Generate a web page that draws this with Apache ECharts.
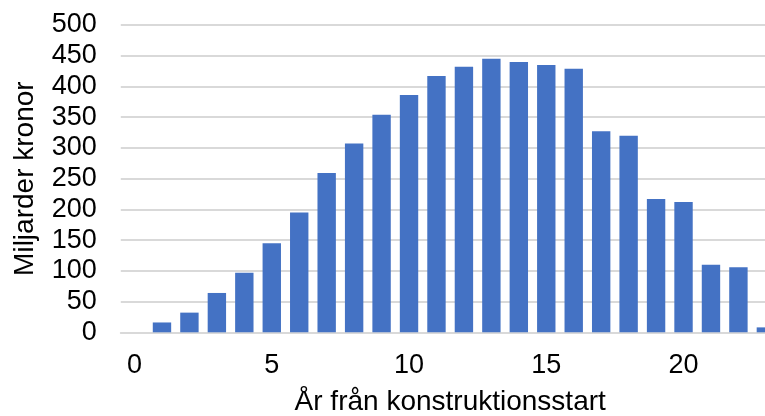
<!DOCTYPE html>
<html>
<head>
<meta charset="utf-8">
<script src="https://cdn.jsdelivr.net/npm/echarts@6/dist/echarts.min.js"></script>
<style>
html,body{margin:0;padding:0;background:#fff;}
#chart{width:765px;height:416px;}
</style>
</head>
<body>
<div id="chart"></div>
<script>
var categories = ['0','1','2','3','4','5','6','7','8','9','10','11','12','13','14','15','16','17','18','19','20','21','22','23'];
var values = [null,16,32,64,97,145,195,259,307,354,386,417,432,445,440,435,429,327,320,217,212,110,106,8];
var yTicks = {min:0, max:500, interval:50};
var xName = 'År från konstruktionsstart';
var yName = 'Miljarder kronor';

var chart = echarts.init(document.getElementById('chart'), null, {renderer:'canvas'});
var font = 'Liberation Sans, Arial, sans-serif';
chart.setOption({
  animation:false,
  backgroundColor:'#fff',
  grid:{left:120.8, right:-14.6, top:25, bottom:83.7, containLabel:false, outerBoundsMode:'none'},
  xAxis:{
    type:'category', data:categories,
    boundaryGap:true,
    axisTick:{show:false},
    axisLine:{show:true, lineStyle:{color:'#d9d9d9', width:2}},
    axisLabel:{interval:4, margin:20, fontSize:27, color:'#000', fontFamily:font},
    name:xName, nameLocation:'middle', nameGap:56,
    nameTextStyle:{fontSize:28, color:'#000', fontFamily:font}
  },
  yAxis:{
    type:'value', min:yTicks.min, max:yTicks.max, interval:yTicks.interval,
    axisLine:{show:false}, axisTick:{show:false},
    splitLine:{lineStyle:{color:'#d9d9d9', width:2}},
    axisLabel:{margin:24, fontSize:27, color:'#000', fontFamily:font},
    name:yName, nameLocation:'middle', nameGap:82,
    nameTextStyle:{fontSize:28, color:'#000', fontFamily:font}
  },
  series:[{
    type:'bar', data:values, barWidth:'67%',
    itemStyle:{color:'#4472C4'}
  }]
});
</script>
</body>
</html>
